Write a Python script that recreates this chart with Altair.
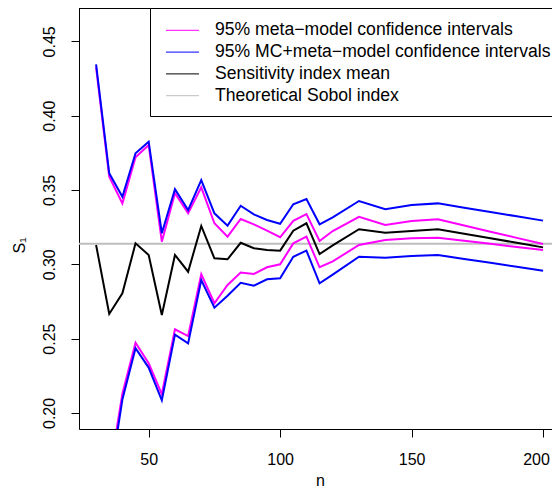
import altair as alt
import pandas as pd

# ---- data ----
n = [30, 35, 40, 45, 50, 55, 60, 65, 70, 75, 80, 85, 90, 95, 100, 105, 110, 115, 120,
     130, 140, 150, 160, 170, 180, 190, 200]
mc_upper = [0.4346, 0.3612, 0.3455, 0.3747, 0.3825, 0.3209, 0.3505, 0.3365, 0.3567, 0.3343,
            0.3260, 0.3394, 0.3336, 0.3298, 0.3273, 0.3404, 0.3439, 0.3269, 0.3316,
            0.3426, 0.3370, 0.3399, 0.3410, 0.3381, 0.3352, 0.3323, 0.3294]
mm_upper = [0.4325, 0.3590, 0.3410, 0.3720, 0.3803, 0.3152, 0.3478, 0.3343, 0.3518, 0.3276,
            0.3186, 0.3305, 0.3269, 0.3226, 0.3182, 0.3293, 0.3338, 0.3157, 0.3224,
            0.3320, 0.3264, 0.3291, 0.3303, 0.3261, 0.3219, 0.3178, 0.3137]
si_mean = [0.3130, 0.2666, 0.2805, 0.3141, 0.3063, 0.2659, 0.3063, 0.2950, 0.3258, 0.3040,
           0.3034, 0.3145, 0.3108, 0.3096, 0.3092, 0.3226, 0.3276, 0.3069, 0.3127,
           0.3236, 0.3213, 0.3224, 0.3236, 0.3205, 0.3175, 0.3145, 0.3114]
mm_lower = [0.170, 0.158, 0.213, 0.2472, 0.2334, 0.2127, 0.2563, 0.2517, 0.2933, 0.2738,
            0.2861, 0.2944, 0.2935, 0.2980, 0.3000, 0.3141, 0.3186, 0.2980, 0.3020,
            0.3130, 0.3164, 0.3175, 0.3179, 0.3159, 0.3138, 0.3116, 0.3096]
mc_lower = [0.165, 0.152, 0.209, 0.2435, 0.2305, 0.2085, 0.2527, 0.2468, 0.2894, 0.2708,
            0.2789, 0.2876, 0.2856, 0.2899, 0.2906, 0.3051, 0.3092, 0.2872, 0.2930,
            0.3051, 0.3044, 0.3056, 0.3063, 0.3036, 0.3010, 0.2984, 0.2957]
sobol_theory = [0.3139]

legend_labels = ["95% meta\u2212model confidence intervals",
                 "95% MC+meta\u2212model confidence intervals",
                 "Sensitivity index mean",
                 "Theoretical Sobol index"]
legend_colors = ["#FF00FF", "#0000FF", "#000000", "#BEBEBE"]

x_ticks = [50, 100, 150, 200]
y_ticks = [0.20, 0.25, 0.30, 0.35, 0.40, 0.45]

# ---- layout constants ----
W, H = 473, 421
FONT = "Liberation Sans"
FS = 16
LFS = 17.6

def long(pairs):
    rows = []
    for key, vals in pairs:
        for xv, yv in zip(n, vals):
            rows.append({"n": xv, "v": yv, "line": key})
    return pd.DataFrame(rows)

xscale = alt.Scale(domain=[23.5, 203.4], nice=False, zero=False)
yscale = alt.Scale(domain=[0.18917, 0.47248], nice=False, zero=False)

xaxis = alt.Axis(values=x_ticks, format="d", title="n", grid=False, tickSize=8,
                 labelPadding=14, domainColor="black", tickColor="black",
                 labelColor="black", titleColor="black", labelFont=FONT,
                 labelFontSize=FS, titleFont=FONT, titleFontSize=FS,
                 titleFontWeight="normal", titleX=241, titleY=56,
                 titleAlign="center", titleBaseline="alphabetic",
                 labelOffset={"condition": {"test": "datum.value == 200", "value": -7},
                              "value": 0},
                 labelFlush=False, labelOverlap=False)
yaxis = alt.Axis(values=y_ticks, format=".2f", title="S\u2081", grid=False, tickSize=8,
                 labelPadding=17, labelAngle=270, labelAlign="center",
                 labelBaseline="alphabetic", domainColor="black", tickColor="black",
                 labelColor="black", titleColor="black", labelFont=FONT,
                 labelFontSize=FS, titleFont=FONT, titleFontSize=FS,
                 titleFontWeight="normal", titleX=-55, titleY=237, titleAngle=270,
                 titleAlign="center", titleBaseline="alphabetic",
                 labelFlush=False, labelOverlap=False)

X = alt.X("n:Q", scale=xscale, axis=xaxis)
Y = alt.Y("v:Q", scale=yscale, axis=yaxis)

sobol = alt.Chart(pd.DataFrame({"v": sobol_theory})).mark_rule(
    color="#BEBEBE", strokeWidth=2, clip=True).encode(y=Y)

magenta = alt.Chart(long([("mm_upper", mm_upper), ("mm_lower", mm_lower)])).mark_line(
    color="#FF00FF", strokeWidth=2, clip=True).encode(x=X, y=Y, detail="line:N")
blue = alt.Chart(long([("mc_upper", mc_upper), ("mc_lower", mc_lower)])).mark_line(
    color="#0000FF", strokeWidth=2, clip=True).encode(x=X, y=Y, detail="line:N")
black = alt.Chart(long([("mean", si_mean)])).mark_line(
    color="black", strokeWidth=2, clip=True).encode(x=X, y=Y, detail="line:N")

dummy = pd.DataFrame({"a": [0]})
top_border = alt.Chart(dummy).mark_rule(color="black", strokeWidth=1).encode(
    x=alt.value(0), x2=alt.value(W), y=alt.value(0.5))
legend_box = alt.Chart(dummy).mark_rect(fill="white", stroke="black", strokeWidth=1).encode(
    x=alt.value(71.5), x2=alt.value(W + 30), y=alt.value(0.5), y2=alt.value(108.5))

legend_layers = []
for i, (lab, col) in enumerate(zip(legend_labels, legend_colors)):
    yy = 22.3 + 21.8 * i
    legend_layers.append(alt.Chart(dummy).mark_rule(color=col, strokeWidth=1).encode(
        x=alt.value(87), x2=alt.value(120), y=alt.value(yy)))
    legend_layers.append(alt.Chart(dummy).mark_text(
        align="left", baseline="middle", font=FONT, fontSize=LFS, color="black").encode(
        x=alt.value(136), y=alt.value(yy), text=alt.value(lab)))

chart = alt.layer(sobol, magenta, blue, black, top_border, legend_box, *legend_layers).properties(
    width=W, height=H,
    padding={"left": 71, "top": 0, "right": 0, "bottom": 58},
    autosize=alt.AutoSizeParams(type="none"),
).configure_view(stroke=None).configure(background="white")

chart.save("out.html", embed_options={"renderer": "svg", "actions": False})
